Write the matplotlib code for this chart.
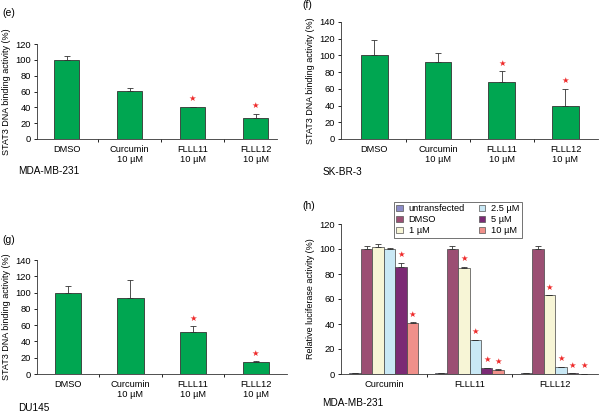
import numpy as np
import matplotlib
matplotlib.use("Agg")
import matplotlib.pyplot as plt
from matplotlib.patches import Patch

plt.rcParams['font.family'] = ['Liberation Sans', 'DejaVu Sans']

# panels e, f, g: STAT3 DNA binding
stat_labels = ['DMSO', 'Curcumin\n10 µM', 'FLLL11\n10 µM', 'FLLL12\n10 µM']
e_vals = [100, 61, 40, 27]
e_err = [5, 4, 1, 5]
e_star = [False, False, True, True]
f_vals = [100, 92, 68, 39]
f_err = [18, 11, 13, 21]
f_star = [False, False, True, True]
g_vals = [100, 93, 52, 15]
g_err = [8, 23, 7, 1]
g_star = [False, False, True, True]

# panel h: luciferase
h_groups = ['Curcumin', 'FLLL11', 'FLLL12']
h_series = ['untransfected', 'DMSO', '1 µM', '2.5 µM', '5 µM', '10 µM']
h_vals = [[0.5, 0.5, 0.5],
          [100, 100, 100],
          [102, 85, 63],
          [100, 27.5, 6],
          [86, 4.5, 0.8],
          [40.5, 3.5, 0.3]]
h_err = [[0, 0, 0],
         [2.5, 2.5, 2.5],
         [2, 1, 0],
         [1, 0, 0],
         [3, 0.5, 0],
         [1, 0.5, 0]]
h_star = [[False, False, False],
          [False, False, False],
          [False, True, True],
          [False, True, True],
          [True, True, True],
          [True, True, True]]
h_colors = ['#8c8cc8', '#9b4f73', '#f7f5d6', '#c9e8f5', '#7b2a74', '#f0908a']

W, H = 600, 413
fig = plt.figure(figsize=(W / 100, H / 100), dpi=100)


def ax_px(left, top, right, bottom):
    return fig.add_axes([left / W, 1 - bottom / H, (right - left) / W, (bottom - top) / H])


def star(ax, xi, y):
    ax.annotate('★', (xi, y), xytext=(0, 2.5), textcoords='offset points',
                ha='center', va='bottom', color='#ee2a2a', fontsize=6,
                family='DejaVu Sans')


def style(ax, ymax, n, xlim):
    ax.set_ylim(0, ymax)
    ax.set_yticks(np.arange(0, ymax + 1, 20))
    ax.set_xlim(*xlim)
    ax.set_xticks(range(n))
    ax.set_xticks(np.arange(0.5, n - 1, 1), minor=True)
    ax.tick_params(axis='x', which='major', length=0, labelsize=6.7, pad=4)
    ax.tick_params(axis='x', which='minor', length=2, width=0.6, direction='out')
    ax.tick_params(axis='y', length=2.5, width=0.6, labelsize=6.7, pad=2)
    for s in ['top', 'right']:
        ax.spines[s].set_visible(False)
    for s in ['left', 'bottom']:
        ax.spines[s].set_linewidth(0.6)
        ax.spines[s].set_color('#333333')


def stat_panel(ax, vals, err, stars, ymax, xlim, width):
    x = np.arange(len(vals))
    ax.bar(x, vals, width, color='#00a651', edgecolor='#333333', linewidth=0.6, zorder=2)
    ax.errorbar(x, vals, yerr=[np.zeros(len(vals)), err], fmt='none', ecolor='#333333',
                elinewidth=0.6, capsize=2.5, capthick=0.6, zorder=3)
    for xi, v, e, s in zip(x, vals, err, stars):
        if s:
            star(ax, xi, v + e)
    style(ax, ymax, len(vals), xlim)
    ax.set_xticklabels(stat_labels)
    ax.set_ylabel('STAT3 DNA binding activity (%)', fontsize=6.5, labelpad=3)


ax_e = ax_px(37, 44, 277, 139)
stat_panel(ax_e, e_vals, e_err, e_star, 120, (-0.47, 3.34), 0.4)
ax_f = ax_px(341, 22, 598, 139)
stat_panel(ax_f, f_vals, f_err, f_star, 140, (-0.52, 3.51), 0.42)
ax_g = ax_px(37, 260, 287, 374)
stat_panel(ax_g, g_vals, g_err, g_star, 140, (-0.49, 3.5), 0.42)

ax_h = ax_px(341, 224, 598, 374)
bw = 0.134
x = np.arange(len(h_groups))
for i, name in enumerate(h_series):
    xs = x + (i - 2.5) * bw
    ax_h.bar(xs, h_vals[i], bw, color=h_colors[i], edgecolor='#444444', linewidth=0.5,
             zorder=2, label=name)
    ax_h.errorbar(xs, h_vals[i], yerr=[np.zeros(3), h_err[i]], fmt='none', ecolor='#333333',
                  elinewidth=0.6, capsize=2, capthick=0.6, zorder=3)
    for xi, v, e, s in zip(xs, h_vals[i], h_err[i], h_star[i]):
        if s:
            star(ax_h, xi, v + e)
style(ax_h, 120, 3, (-0.5, 2.5))
ax_h.set_xticklabels(h_groups)
ax_h.set_ylabel('Relative luciferase activity (%)', fontsize=6.5, labelpad=3)

handles = [Patch(facecolor=c, edgecolor='#555555', linewidth=0.5) for c in h_colors]
leg = fig.legend(handles, h_series, ncol=2, loc='upper left',
                 bbox_to_anchor=(389 / W, 1 - 197 / H), fontsize=6.7,
                 handlelength=0.7, handleheight=0.7, handletextpad=0.6,
                 columnspacing=1.5, labelspacing=0.2, borderpad=0.3,
                 frameon=True, fancybox=False)
leg.get_frame().set_edgecolor('#333333')
leg.get_frame().set_linewidth(0.6)

# panel letters and cell line names
for txt, px, py in [('(e)', 2, 8), ('(f)', 302, 0), ('(g)', 2, 235), ('(h)', 302, 201)]:
    fig.text(px / W, 1 - py / H, txt, fontsize=7.5, va='top', ha='left')
for txt, px, py in [('MDA-MB-231', 18, 166), ('SK-BR-3', 323, 167), ('DU145', 18, 403),
                    ('MDA-MB-231', 322, 398)]:
    fig.text(px / W, 1 - py / H, txt, fontsize=7.2, va='top', ha='left')

fig.savefig('out.png', dpi=100)
